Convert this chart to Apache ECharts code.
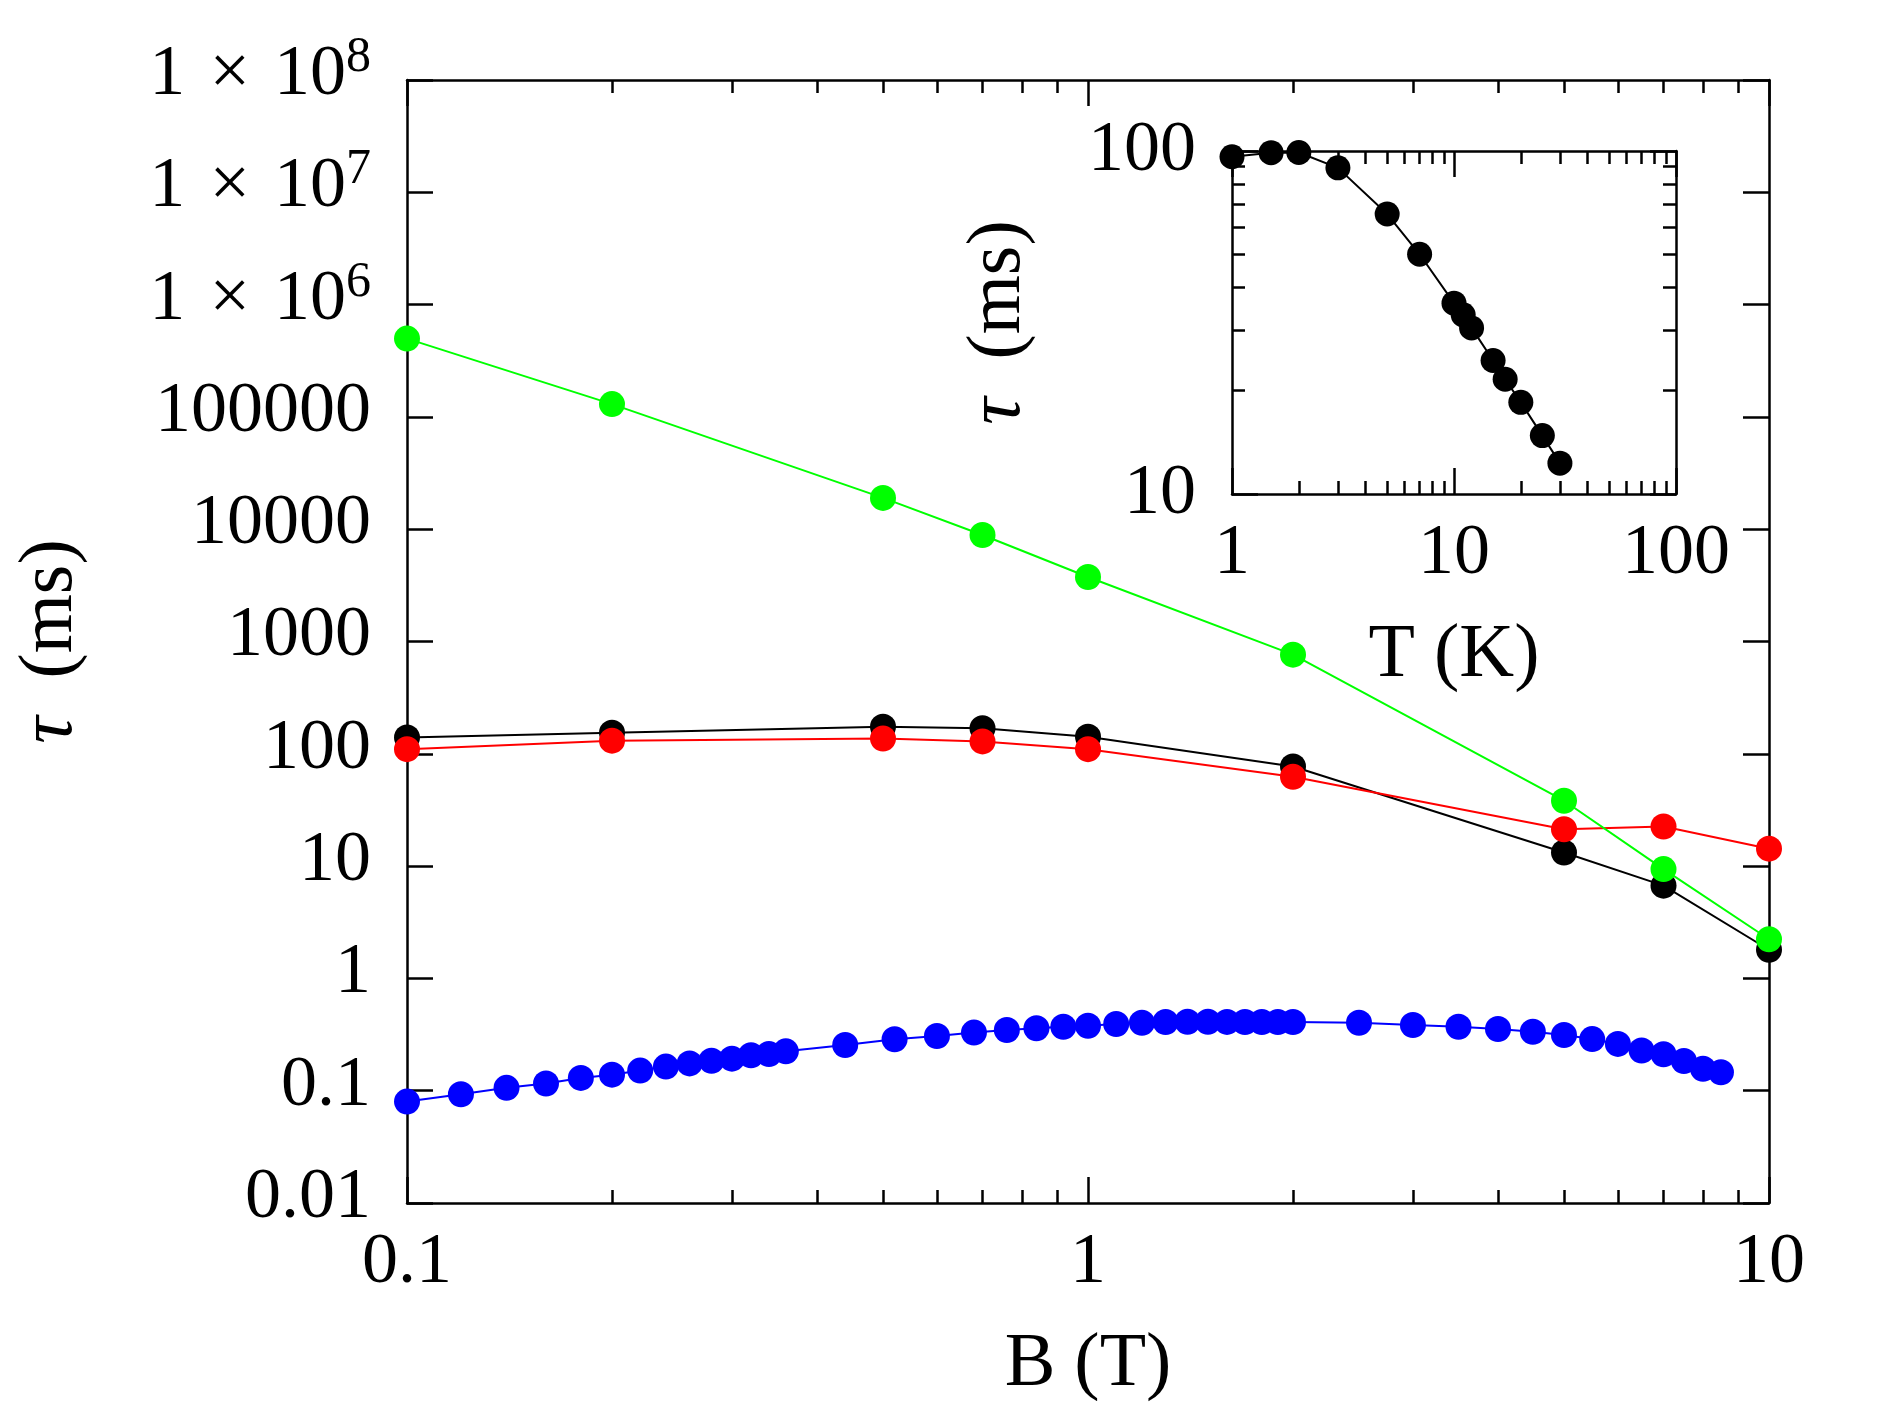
<!DOCTYPE html>
<html>
<head>
<meta charset="utf-8">
<script src="https://cdn.jsdelivr.net/npm/echarts@6/dist/echarts.min.js"></script>
<style>
  html, body { margin: 0; padding: 0; background: #fff; }
  #chart { width: 1890px; height: 1415px; }
</style>
</head>
<body>
<div id="chart"></div>
<script>
// main panel: tau vs B
const fieldB = [0.1, 0.2, 0.5, 0.7, 1, 2, 5, 7, 10];
const tauBlack = [140, 154, 174, 169, 142, 77, 13.2, 6.7, 1.8];
const tauRed = [110, 131, 137, 129, 110, 62.5, 21.3, 22.5, 14.3];
const tauGreen = [4.98e5, 1.30e5, 1.90e4, 8.87e3, 3.75e3, 764, 38.2, 9.4, 2.23];

const blueB = [0.1, 0.12, 0.14, 0.16, 0.18, 0.2, 0.22, 0.24, 0.26, 0.28, 0.3, 0.32, 0.34, 0.36,
  0.44, 0.52, 0.6, 0.68, 0.76, 0.84, 0.92, 1.0,
  1.1, 1.2, 1.3, 1.4, 1.5, 1.6, 1.7, 1.8, 1.9, 2.0,
  2.5, 3.0, 3.5, 4.0, 4.5, 5.0, 5.5, 6.0, 6.5, 7.0, 7.5, 8.0, 8.5];
const blueTau = [0.080, 0.093, 0.106, 0.116, 0.130, 0.139, 0.151, 0.164, 0.175, 0.185, 0.193, 0.207, 0.212, 0.224,
  0.255, 0.287, 0.307, 0.329, 0.347, 0.360, 0.371, 0.379,
  0.393, 0.403, 0.409, 0.411, 0.411, 0.410, 0.409, 0.409, 0.409, 0.409,
  0.403, 0.385, 0.371, 0.354, 0.335, 0.313, 0.288, 0.261, 0.228, 0.211, 0.184, 0.157, 0.146];

// inset: tau vs T
const insetT = [1, 1.5, 2, 3, 5, 7, 10, 11, 12, 15, 17, 20, 25, 30];
const insetTau = [96.2, 98.9, 99, 89.3, 65.5, 50, 36, 33.3, 30.5, 24.5, 21.6, 18.5, 14.8, 12.3];

// tick positions
const bMajor = [0.1, 1, 10];
const bMinor = [0.2, 0.3, 0.4, 0.5, 0.6, 0.7, 0.8, 0.9, 2, 3, 4, 5, 6, 7, 8, 9];
const tauMajor = [0.01, 0.1, 1, 10, 100, 1000, 10000, 100000, 1e6, 1e7, 1e8];
const tMajor = [1, 10, 100];
const tMinor = [2, 3, 4, 5, 6, 7, 8, 9, 20, 30, 40, 50, 60, 70, 80, 90];
const insetTauMajor = [10, 100];
const insetTauMinor = [20, 30, 40, 50, 60, 70, 80, 90];

const FONT = 'Liberation Serif';
const FS = 72;
const NAME_FS = 76;
const black = '#000';

function zip(xs, ys) {
  return xs.map((x, i) => [x, ys[i]]);
}

function plainNum(v) {
  const e = Math.round(Math.log10(v));
  if (e >= 0) return '1' + '0'.repeat(e);
  return '0.' + '0'.repeat(-e - 1) + '1';
}

function tauLabel(v) {
  const e = Math.round(Math.log10(v));
  if (e >= 6) return '{n|1\u2004×\u200410}{s|' + e + '}';
  return '{n|' + plainNum(v) + '}';
}

const labelBase = { fontFamily: FONT, fontSize: FS, color: black };
const nameBase = { fontFamily: FONT, fontSize: NAME_FS, color: black };

// one log axis; major carries line + labels, minor only short ticks
function logAxis(grid, min, max, pos, ticks, len, opt) {
  opt = opt || {};
  return {
    type: 'log', logBase: 10, gridIndex: grid, min: min, max: max, position: pos,
    axisLine: { show: !!opt.line, lineStyle: { color: black, width: 2.5 } },
    axisTick: { show: true, inside: true, length: len, customValues: ticks,
      lineStyle: { color: black, width: 2.5 } },
    minorTick: { show: false },
    splitLine: { show: false },
    axisLabel: opt.labels ? Object.assign({ show: true, customValues: opt.labels }, opt.labelStyle)
                          : { show: false },
    name: opt.name || '',
    nameLocation: 'middle',
    nameGap: opt.nameGap || 0,
    nameTextStyle: opt.nameStyle || nameBase,
    silent: true
  };
}

const tauName = '{i|τ}  (ms)';
const tauNameStyle = Object.assign({}, nameBase, {
  rich: { i: { fontFamily: FONT, fontSize: NAME_FS, fontStyle: 'italic', color: black } }
});

const xLabelStyle = Object.assign({}, labelBase, { margin: 24, formatter: v => String(v) });
const yLabelStyle = Object.assign({}, labelBase, {
  margin: 36,
  formatter: tauLabel,
  rich: {
    n: { fontFamily: FONT, fontSize: FS, color: black, padding: [7, 0, 17, 0] },
    s: { fontFamily: FONT, fontSize: 50, color: black, padding: [0, 0, 44, 0] }
  }
});
const insetYLabelStyle = Object.assign({}, labelBase, { margin: 36, formatter: v => plainNum(v) });

const xAxes = [
  logAxis(0, 0.1, 10, 'bottom', bMajor, 26, {
    line: true, labels: bMajor, labelStyle: xLabelStyle, name: 'B (T)', nameGap: 124 }),
  logAxis(0, 0.1, 10, 'bottom', bMinor, 13),
  logAxis(0, 0.1, 10, 'top', bMajor, 26, { line: true }),
  logAxis(0, 0.1, 10, 'top', bMinor, 13),
  logAxis(1, 1, 100, 'bottom', tMajor, 26, {
    line: true, labels: tMajor, labelStyle: xLabelStyle, name: 'T (K)', nameGap: 124 }),
  logAxis(1, 1, 100, 'bottom', tMinor, 13),
  logAxis(1, 1, 100, 'top', tMajor, 26, { line: true }),
  logAxis(1, 1, 100, 'top', tMinor, 13)
];

const yAxes = [
  logAxis(0, 0.01, 1e8, 'left', tauMajor, 26, {
    line: true, labels: tauMajor, labelStyle: yLabelStyle,
    name: tauName, nameGap: 318, nameStyle: tauNameStyle }),
  logAxis(0, 0.01, 1e8, 'right', tauMajor, 26, { line: true }),
  logAxis(1, 10, 100, 'left', insetTauMajor, 26, {
    line: true, labels: insetTauMajor, labelStyle: insetYLabelStyle,
    name: tauName, nameGap: 195, nameStyle: tauNameStyle }),
  logAxis(1, 10, 100, 'left', insetTauMinor, 13),
  logAxis(1, 10, 100, 'right', insetTauMajor, 26, { line: true }),
  logAxis(1, 10, 100, 'right', insetTauMinor, 13)
];

function lineSeries(name, data, color, xi, yi, size) {
  return {
    name: name, type: 'line', xAxisIndex: xi, yAxisIndex: yi, data: data,
    symbol: 'circle', symbolSize: size, showAllSymbol: true,
    lineStyle: { color: color, width: 2 },
    itemStyle: { color: color, borderWidth: 0 },
    emphasis: { disabled: true },
    animation: false
  };
}

const chart = echarts.init(document.getElementById('chart'), null, { renderer: 'canvas' });
chart.setOption({
  backgroundColor: '#fff',
  animation: false,
  grid: [
    { left: 407, top: 80, width: 1362, height: 1123, containLabel: false, outerBoundsMode: 'none' },
    { left: 1232, top: 151, width: 444, height: 343, containLabel: false, outerBoundsMode: 'none' }
  ],
  xAxis: xAxes,
  yAxis: yAxes,
  series: [
    lineSeries('black', zip(fieldB, tauBlack), '#000000', 0, 0, 26),
    lineSeries('red', zip(fieldB, tauRed), '#ff0000', 0, 0, 26),
    lineSeries('green', zip(fieldB, tauGreen), '#00ff00', 0, 0, 26),
    lineSeries('blue', zip(blueB, blueTau), '#0000ff', 0, 0, 26),
    lineSeries('inset', zip(insetT, insetTau), '#000000', 4, 2, 25)
  ]
});
</script>
</body>
</html>
